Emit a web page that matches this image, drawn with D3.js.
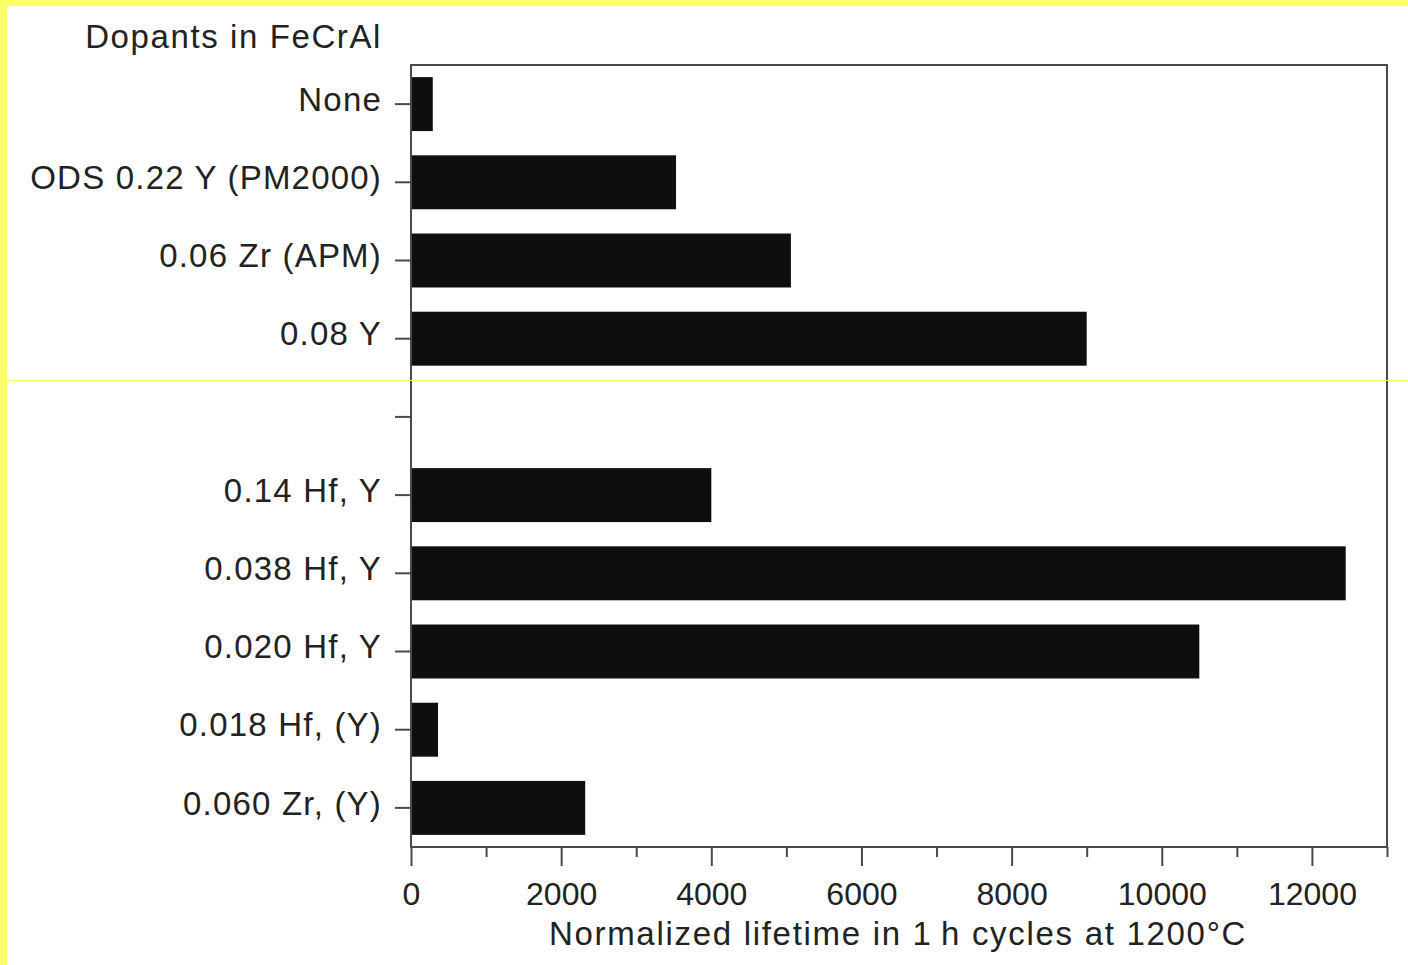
<!DOCTYPE html>
<html>
<head>
<meta charset="utf-8">
<script src="https://cdn.jsdelivr.net/npm/d3@7"></script>
<style>
  html, body { margin: 0; padding: 0; background: #fff; }
  svg { display: block; }
  text { font-family: "Liberation Sans", Arial, Helvetica, sans-serif; fill: #222; }
</style>
</head>
<body>
<script>
// Dopant variants (an empty slot separates the two alloy groups)
const categories = ["None", "ODS 0.22 Y (PM2000)", "0.06 Zr (APM)", "0.08 Y", "",
                    "0.14 Hf, Y", "0.038 Hf, Y", "0.020 Hf, Y", "0.018 Hf, (Y)", "0.060 Zr, (Y)"];
// Normalized lifetime in 1 h cycles at 1200 °C
const lifetimes = [290, 3530, 5060, 9000, null, 4000, 12450, 10500, 360, 2320];
const majorTicks = [0, 2000, 4000, 6000, 8000, 10000, 12000];
const minorTicks = [1000, 3000, 5000, 7000, 9000, 11000, 13000];
const yTitle = "Dopants in FeCrAl";
const xTitle = "Normalized lifetime in 1\u2009h cycles at 1200\u00B0C";

const W = 1408, H = 965;
const plot = { left: 411, right: 1387, top: 65, bottom: 847 };

const rows = categories.map((c, i) => ({ key: "r" + i, label: c, value: lifetimes[i] }));

const svg = d3.select("body").append("svg").attr("width", W).attr("height", H);

// scanner frame
svg.append("rect").attr("x", 0).attr("y", 0).attr("width", W).attr("height", H).attr("fill", "#fff");
svg.append("rect").attr("x", 0).attr("y", 0).attr("width", W).attr("height", 6).attr("fill", "#ffff66");
svg.append("rect").attr("x", 0).attr("y", 0).attr("width", 7).attr("height", H).attr("fill", "#ffff66");

const x = d3.scaleLinear().domain([0, 13000]).range([plot.left, plot.right]);
const y = d3.scaleBand().domain(rows.map(d => d.key)).range([plot.top, plot.bottom])
  .paddingInner(0.31).paddingOuter(0.155);

// bars
svg.append("g").selectAll("rect")
  .data(rows.filter(d => d.value != null))
  .join("rect")
  .attr("x", x(0))
  .attr("y", d => y(d.key))
  .attr("width", d => x(d.value) - x(0))
  .attr("height", y.bandwidth())
  .attr("fill", "#0e0e0e");

const axisColor = "#4a4a4a";
const labelFont = "'Liberation Sans', Arial, sans-serif";

// plot frame
svg.append("rect")
  .attr("x", plot.left).attr("y", plot.top)
  .attr("width", plot.right - plot.left).attr("height", plot.bottom - plot.top)
  .attr("fill", "none").attr("stroke", axisColor).attr("stroke-width", 2);

// y axis with category labels
const yAxis = d3.axisLeft(y).tickSize(16).tickPadding(14)
  .tickFormat(k => rows.find(r => r.key === k).label);
const gy = svg.append("g").attr("transform", `translate(${plot.left},0)`).call(yAxis);
gy.select(".domain").remove();
gy.selectAll(".tick line").attr("stroke", axisColor).attr("stroke-width", 2);
gy.selectAll(".tick text")
  .attr("font-size", 33).attr("fill", "#222").attr("font-family", labelFont)
  .attr("letter-spacing", "1.2px").attr("dx", 1).attr("dy", "0.2em");

// x axis: major ticks with labels, minor ticks between
const xAxis = d3.axisBottom(x).tickValues(majorTicks).tickSize(19).tickPadding(16)
  .tickFormat(d3.format("d"));
const gx = svg.append("g").attr("transform", `translate(0,${plot.bottom})`).call(xAxis);
gx.select(".domain").remove();
gx.selectAll(".tick line").attr("stroke", axisColor).attr("stroke-width", 2);
gx.selectAll(".tick text").attr("font-size", 32).attr("fill", "#222").attr("font-family", labelFont);

const gxMinor = svg.append("g").attr("transform", `translate(0,${plot.bottom})`)
  .call(d3.axisBottom(x).tickValues(minorTicks).tickSize(10).tickFormat(""));
gxMinor.select(".domain").remove();
gxMinor.selectAll(".tick line").attr("stroke", axisColor).attr("stroke-width", 2);

// titles
svg.append("text").attr("x", 382).attr("y", 48).attr("text-anchor", "end")
  .attr("font-size", 33).attr("letter-spacing", "1.6px").text(yTitle);
svg.append("text").attr("x", 898).attr("y", 945).attr("text-anchor", "middle")
  .attr("font-size", 33).attr("letter-spacing", "1.7px").text(xTitle);

// thin yellow scan line
svg.append("rect").attr("x", 0).attr("y", 380).attr("width", W).attr("height", 1)
  .attr("fill", "#ffff66");
</script>
</body>
</html>
